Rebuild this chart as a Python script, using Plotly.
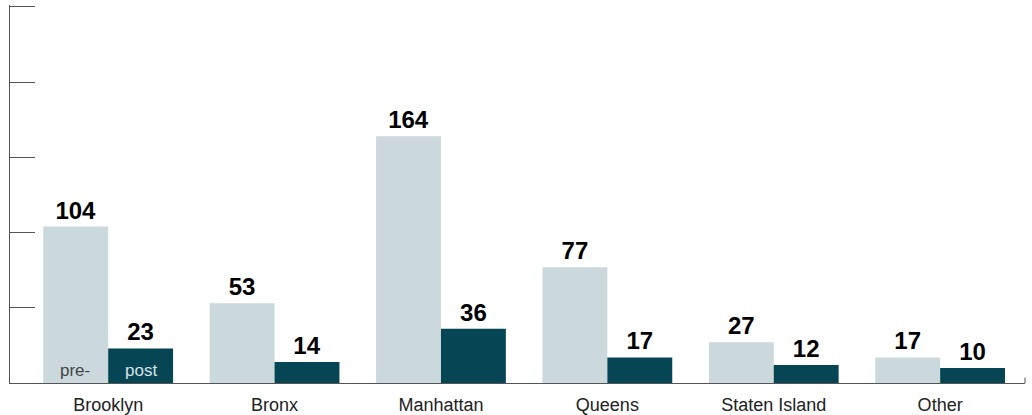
import plotly.graph_objects as go

boroughs = ["Brooklyn", "Bronx", "Manhattan", "Queens", "Staten Island", "Other"]
pre_values = [104, 53, 164, 77, 27, 17]
post_values = [23, 14, 36, 17, 12, 10]
y_ticks = [0, 50, 100, 150, 200, 250]
Y_TOP = 251.2

PRE_COLOR = "#cbd9dd"
POST_COLOR = "#064654"
AXIS_COLOR = "#555555"
FONT = "Liberation Sans, Arial, Helvetica, sans-serif"

fig = go.Figure()
fig.add_trace(go.Bar(
    x=boroughs, y=pre_values, name="pre-",
    marker=dict(color=PRE_COLOR, line=dict(width=0)),
    text=[str(v) for v in pre_values], textposition="outside",
    textfont=dict(family=FONT, size=24, color="#000000"),
    texttemplate="<b>%{text}</b>", cliponaxis=False,
))
fig.add_trace(go.Bar(
    x=boroughs, y=post_values, name="post",
    marker=dict(color=POST_COLOR, line=dict(width=0)),
    text=[str(v) for v in post_values], textposition="outside",
    textfont=dict(family=FONT, size=24, color="#000000"),
    texttemplate="<b>%{text}</b>", cliponaxis=False,
))

# in-bar series labels on the first group
fig.add_annotation(x=0, xshift=-33, y=0, yanchor="bottom", yshift=1, text="pre-",
                   showarrow=False, font=dict(family=FONT, size=17, color="#444444"))
fig.add_annotation(x=0, xshift=33, y=0, yanchor="bottom", yshift=1, text="post",
                   showarrow=False, font=dict(family=FONT, size=17, color="#d8e2e5"))

# small closing tick at the right end of the baseline
fig.add_shape(type="line", xref="paper", yref="paper", x0=1, x1=1, y0=0, y1=0.014,
              line=dict(color=AXIS_COLOR, width=1))

fig.update_layout(
    width=1032, height=415,
    margin=dict(l=10, r=7, t=5, b=32),
    paper_bgcolor="white", plot_bgcolor="white",
    barmode="group", bargap=0.22, bargroupgap=0,
    showlegend=False,
    font=dict(family=FONT, color="#222222"),
    xaxis=dict(
        range=[-0.59, 5.51], showgrid=False, zeroline=False,
        showline=True, linecolor=AXIS_COLOR, linewidth=1,
        ticks="", tickfont=dict(family=FONT, size=18, color="#222222"),
        ticklabelstandoff=5, automargin=False,
    ),
    yaxis=dict(
        range=[0, Y_TOP], tickvals=y_ticks, showticklabels=False,
        showgrid=False, zeroline=False, automargin=False,
        showline=True, linecolor=AXIS_COLOR, linewidth=1,
        ticks="inside", ticklen=25, tickcolor=AXIS_COLOR, tickwidth=1,
    ),
)

fig.write_html("out.html")
